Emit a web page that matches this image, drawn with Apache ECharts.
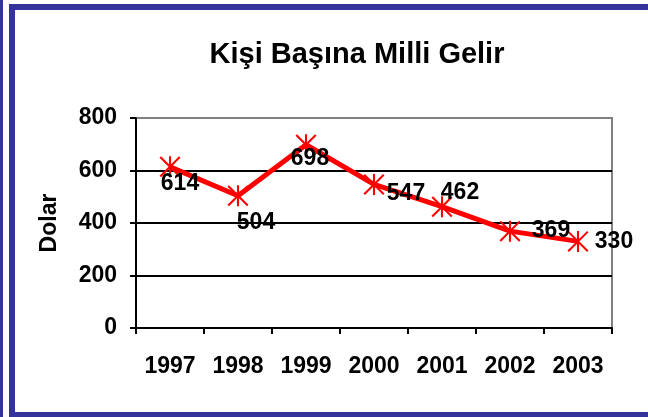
<!DOCTYPE html>
<html>
<head>
<meta charset="utf-8">
<script src="https://cdn.jsdelivr.net/npm/echarts@6/dist/echarts.min.js"></script>
<style>
  html, body { margin: 0; padding: 0; background: #fff; }
  #main { width: 648px; height: 417px; }
</style>
</head>
<body>
<div id="main"></div>
<script>
// data
var years = ["1997", "1998", "1999", "2000", "2001", "2002", "2003"];
var gelir = [614, 504, 698, 547, 462, 369, 330];
var yTicks = { min: 0, max: 800, interval: 200 };

// label offsets (style only), like the excel labels
var labelOffsets = [[10, 17], [18, 27], [4, 14], [32, 9], [18, -14], [41, 0], [36, 0]];

var frameColor = "#333399";
var font = "'Liberation Sans', Arial, sans-serif";
// yildiz isaret (asterisk)
var starPath = "path://M9 0L11 0L11 20L9 20Z M0 1.4L1.4 0L20 18.6L18.6 20Z M18.6 0L20 1.4L1.4 20L0 18.6Z";

var chart = echarts.init(document.getElementById("main"));

var seriesData = gelir.map(function (v, i) {
  return { value: v, label: { offset: labelOffsets[i] } };
});

var option = {
  animation: false,
  backgroundColor: "#fff",
  textStyle: { fontFamily: font },
  title: {
    text: "Kişi Başına Milli Gelir",
    left: 352,
    top: 35,
    textAlign: "center",
    textStyle: { fontFamily: font, fontSize: 29, fontWeight: "bold", color: "#000" }
  },
  grid: {
    left: 136, right: 36, top: 118, bottom: 89,
    show: true,
    borderColor: "#808080",
    borderWidth: 2
  },
  xAxis: {
    type: "category",
    data: years,
    boundaryGap: true,
    axisLine: { lineStyle: { color: "#000", width: 2 } },
    axisTick: { show: true, length: 6, lineStyle: { color: "#000", width: 2 } },
    axisLabel: { margin: 27, color: "#000", fontSize: 23, fontWeight: "bold", fontFamily: font },
    splitLine: { show: false }
  },
  yAxis: {
    type: "value",
    min: yTicks.min,
    max: yTicks.max,
    interval: yTicks.interval,
    name: "Dolar",
    nameLocation: "middle",
    nameRotate: 90,
    nameGap: 75,
    nameTextStyle: { color: "#000", fontSize: 23, fontWeight: "bold", fontFamily: font },
    axisLine: { show: true, lineStyle: { color: "#000", width: 2 } },
    axisTick: { show: true, length: 6, lineStyle: { color: "#000", width: 2 } },
    axisLabel: { margin: 19, color: "#000", fontSize: 23, fontWeight: "bold", fontFamily: font },
    splitLine: { show: true, showMaxLine: false, lineStyle: { color: "#000", width: 2 } }
  },
  series: [
    {
      type: "line",
      data: seriesData,
      symbol: starPath,
      symbolSize: 21,
      itemStyle: { color: "#ff0000" },
      lineStyle: { color: "#ff0000", width: 5 },
      label: {
        show: true,
        position: "inside",
        color: "#000",
        fontSize: 23,
        fontWeight: "bold",
        fontFamily: font
      },
      emphasis: { disabled: true },
      z: 3
    }
  ],
  graphic: [
    { type: "rect", shape: { x: 0, y: 0, width: 3, height: 417 }, style: { fill: frameColor }, silent: true },
    { type: "rect", shape: { x: 9, y: 4, width: 6, height: 413 }, style: { fill: frameColor }, silent: true },
    { type: "rect", shape: { x: 9, y: 4, width: 639, height: 6 }, style: { fill: frameColor }, silent: true },
    { type: "rect", shape: { x: 9, y: 412, width: 639, height: 5 }, style: { fill: frameColor }, silent: true }
  ]
};

chart.setOption(option);
</script>
</body>
</html>
